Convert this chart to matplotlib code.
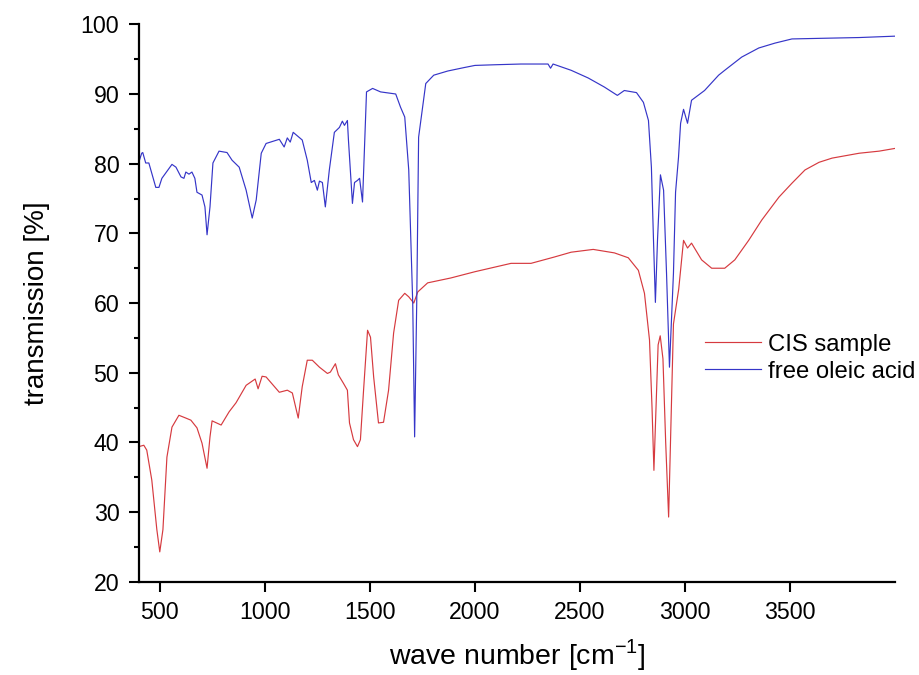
# FTIR spectra: CIS sample vs free oleic acid
import numpy as np
import matplotlib.pyplot as plt

plt.rcParams['font.family'] = ['Liberation Sans', 'DejaVu Sans']

# free oleic acid (wave number, transmission)
oleic_wn = [400, 414, 419, 433, 448, 481, 496, 510, 558, 577, 601, 615, 624, 639, 653, 667,
            677, 701, 715, 725, 739, 753, 782, 820, 844, 878, 911, 940, 959, 983, 1006,
            1069, 1092, 1107, 1121, 1135, 1178, 1202, 1221, 1236, 1250, 1260, 1274, 1288,
            1307, 1331, 1355, 1369, 1379, 1393, 1398, 1417, 1427, 1441, 1451, 1465, 1484,
            1513, 1551, 1623, 1646, 1666, 1685, 1704, 1713, 1723, 1732, 1766, 1804, 1871,
            1950, 2000, 2100, 2219, 2348, 2360, 2372, 2458, 2539, 2616, 2678, 2711, 2769,
            2802, 2826, 2840, 2850, 2859, 2869, 2883, 2898, 2912, 2926, 2945, 2955, 2969,
            2979, 2993, 3012, 3031, 3093, 3160, 3189, 3270, 3351, 3428, 3509, 3666, 3829,
            4001]
oleic_t = [80.2, 81.5, 81.6, 80.1, 80.1, 76.6, 76.6, 77.9, 79.9, 79.5, 78.1, 77.9, 78.8, 78.5,
           78.8, 77.9, 75.9, 75.5, 73.8, 69.8, 73.8, 80.1, 81.8, 81.6, 80.5, 79.5, 76.2, 72.2,
           74.8, 81.5, 82.9, 83.5, 82.4, 83.7, 83.1, 84.5, 83.4, 80.5, 77.3, 77.6, 76.2, 77.5,
           77.3, 73.8, 79.1, 84.5, 85.2, 86.1, 85.5, 86.2, 83.4, 74.3, 77.3, 77.6, 77.9, 74.5,
           90.3, 90.8, 90.3, 90.0, 88.1, 86.7, 79.1, 60.0, 40.8, 60.0, 83.8, 91.5, 92.7, 93.3,
           93.8, 94.1, 94.2, 94.3, 94.3, 93.7, 94.3, 93.4, 92.3, 91.0, 89.8, 90.5, 90.2, 88.8,
           86.2, 79.5, 69.0, 60.1, 69.0, 78.4, 76.2, 64.3, 50.8, 64.3, 75.9, 80.9, 85.8, 87.8,
           85.8, 89.1, 90.5, 92.7, 93.4, 95.3, 96.6, 97.3, 97.9, 98.0, 98.1, 98.3]

# CIS sample (wave number, transmission)
cis_wn = [400, 424, 438, 462, 486, 500, 515, 534, 558, 591, 624, 648, 677, 701, 725, 739,
          749, 792, 830, 863, 911, 954, 968, 987, 1006, 1069, 1107, 1131, 1159, 1178, 1202,
          1226, 1260, 1298, 1312, 1336, 1350, 1374, 1393, 1403, 1422, 1441, 1455, 1470, 1489,
          1503, 1518, 1541, 1565, 1589, 1613, 1637, 1666, 1685, 1709, 1728, 1775, 1885, 2000,
          2172, 2267, 2377, 2458, 2563, 2664, 2730, 2778, 2807, 2831, 2843, 2852, 2862, 2872,
          2882, 2895, 2908, 2922, 2935, 2945, 2955, 2970, 2993, 3012, 3031, 3079, 3127, 3189,
          3237, 3303, 3365, 3447, 3509, 3571, 3638, 3700, 3829, 3924, 4001]
cis_t = [39.4, 39.6, 38.9, 34.6, 27.5, 24.3, 27.5, 37.9, 42.2, 43.9, 43.5, 43.2, 42.1, 39.9,
         36.3, 40.8, 43.1, 42.5, 44.4, 45.7, 48.2, 49.1, 47.7, 49.5, 49.4, 47.2, 47.5, 47.1,
         43.5, 48.0, 51.8, 51.8, 50.8, 49.9, 50.1, 51.3, 49.7, 48.5, 47.5, 42.8, 40.4, 39.4,
         40.4, 47.5, 56.1, 55.1, 49.4, 42.8, 42.9, 47.5, 55.7, 60.4, 61.4, 60.9, 60.0, 61.6,
         62.9, 63.6, 64.5, 65.7, 65.7, 66.6, 67.3, 67.7, 67.2, 66.5, 64.7, 61.4, 54.7, 45.0,
         36.0, 45.0, 54.0, 55.3, 52.0, 40.0, 29.3, 45.0, 57.0, 59.0, 62.0, 69.0, 67.9, 68.6,
         66.2, 65.0, 65.0, 66.2, 69.0, 71.9, 75.2, 77.2, 79.1, 80.2, 80.8, 81.5, 81.8, 82.2]

fig = plt.figure(figsize=(9.19, 6.75), dpi=100)
ax = fig.add_axes([0.151, 0.138, 0.823, 0.826])

ax.plot(cis_wn, cis_t, color='#d63a3f', lw=0.85, label='CIS sample')
ax.plot(oleic_wn, oleic_t, color='#3535c8', lw=0.85, label='free oleic acid')

ax.set_xlim(400, 4000)
ax.set_ylim(20, 100)
ax.set_xticks([500, 1000, 1500, 2000, 2500, 3000, 3500])
ax.set_yticks(np.arange(20, 101, 10))
ax.set_yticks(np.arange(25, 100, 10), minor=True)

for s in ['top', 'right']:
    ax.spines[s].set_visible(False)
for s in ['left', 'bottom']:
    ax.spines[s].set_linewidth(1.6)

ax.tick_params(which='major', direction='out', length=7, width=1.5, labelsize=16.7, pad=7)
ax.tick_params(which='minor', direction='out', length=3.5, width=1.5)

ax.set_xlabel('wave number [cm$^{\\mathregular{-1}}$]', fontsize=20.5, labelpad=9)
ax.set_ylabel('transmission [%]', fontsize=20, labelpad=22)

ax.legend(frameon=False, loc='upper left', bbox_to_anchor=(0.749, 0.445),
          fontsize=17.2, borderaxespad=0, borderpad=0, handlelength=2.33,
          handletextpad=0.3, labelspacing=0.2)

fig.savefig('out.png', dpi=100)
